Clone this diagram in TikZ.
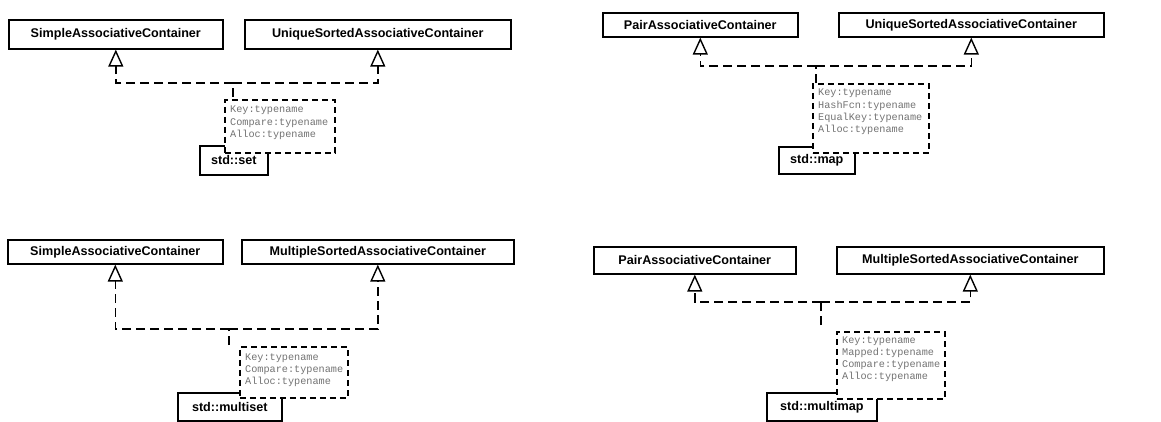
\documentclass[tikz,border=0pt]{standalone}
\usepackage{fontspec}
\setmainfont{Liberation Sans}
\newfontfamily\monof{Liberation Mono}
\usetikzlibrary{arrows.meta}
\tikzset{
  iface/.style={draw, line width=1.6pt, font=\fontsize{12.6}{14}\selectfont\bfseries, inner sep=0pt, anchor=north west},
  cls/.style={draw, line width=1.6pt, font=\fontsize{12.6}{14}\selectfont\bfseries, inner sep=0pt, anchor=north west, fill=white},
  tpl/.style={draw, fill=white, line width=1.6pt, dash pattern=on 6pt off 4pt, anchor=north west, inner sep=0pt},
  tpltext/.style={anchor=north west, inner sep=0pt, align=left, text=black!55, font=\fontsize{10.2}{12.3}\selectfont\monof},
  dep/.style={line width=1.6pt, dash pattern=on 9pt off 5pt, -{Triangle[open, length=17pt, width=15pt, line width=1.4pt]}},
  depline/.style={line width=1.6pt, dash pattern=on 9pt off 5pt}
}
\begin{document}
\begin{tikzpicture}[x=1pt,y=-1pt]
\useasboundingbox (0,0) rectangle (1161,421);

% ---------- panel 1: std::set ----------
\node[iface, minimum width=214pt, minimum height=29pt] (a1) at (8,19) {SimpleAssociativeContainer};
\node[iface, minimum width=266pt, minimum height=29pt] (b1) at (244,19) {UniqueSortedAssociativeContainer};
\node[cls, minimum width=68pt, minimum height=29pt] (c1) at (199,145) {std::set};
\node[tpl, minimum width=110pt, minimum height=53pt] (t1) at (224,99) {};
\node[tpltext] (tt1) at (230,106) {Key:typename\\Compare:typename\\Alloc:typename};
\coordinate (s1) at (233,97);
\coordinate (j1) at (233,83);
\draw[depline] (s1) -- (j1);
\draw[dep] (j1) -| (a1.south);
\draw[dep] (j1) -| (b1.south);

% ---------- panel 2: std::map ----------
\node[iface, minimum width=195pt, minimum height=24pt] (a2) at (602,12) {PairAssociativeContainer};
\node[iface, minimum width=265pt, minimum height=24pt] (b2) at (838,12) {UniqueSortedAssociativeContainer};
\node[cls, minimum width=76pt, minimum height=27pt] (c2) at (778,146) {std::map};
\node[tpl, minimum width=116pt, minimum height=69pt] (t2) at (812,83) {};
\node[tpltext] (tt2) at (818,89) {Key:typename\\HashFcn:typename\\EqualKey:typename\\Alloc:typename};
\coordinate (s2) at (816,83);
\coordinate (j2) at (816,66);
\draw[depline] (s2) -- (j2);
\draw[dep] (j2) -| (a2.south);
\draw[dep] (j2) -| (b2.south);

% ---------- panel 3: std::multiset ----------
\node[iface, minimum width=215pt, minimum height=24pt] (a3) at (7,239) {SimpleAssociativeContainer};
\node[iface, minimum width=272pt, minimum height=24pt] (b3) at (241,239) {MultipleSortedAssociativeContainer};
\node[cls, minimum width=104pt, minimum height=28pt] (c3) at (177,392) {std::multiset};
\node[tpl, minimum width=108pt, minimum height=51pt] (t3) at (239,346) {};
\node[tpltext] (tt3) at (245,353) {Key:typename\\Compare:typename\\Alloc:typename};
\coordinate (s3) at (229,345);
\coordinate (j3) at (229,329);
\draw[depline] (s3) -- (j3);
\draw[dep] (j3) -| (a3.south);
\draw[dep] (j3) -| (b3.south);

% ---------- panel 4: std::multimap ----------
\node[iface, minimum width=202pt, minimum height=27pt] (a4) at (593,246) {PairAssociativeContainer};
\node[iface, minimum width=267pt, minimum height=27pt] (b4) at (836,246) {MultipleSortedAssociativeContainer};
\node[cls, minimum width=110pt, minimum height=28pt] (c4) at (766,392) {std::multimap};
\node[tpl, minimum width=108pt, minimum height=67pt] (t4) at (836,331) {};
\node[tpltext] (tt4) at (842,336) {Key:typename\\Mapped:typename\\Compare:typename\\Alloc:typename};
\coordinate (s4) at (821,325);
\coordinate (j4) at (821,302);
\draw[depline] (s4) -- (j4);
\draw[dep] (j4) -| (a4.south);
\draw[dep] (j4) -| (b4.south);
\end{tikzpicture}
\end{document}
